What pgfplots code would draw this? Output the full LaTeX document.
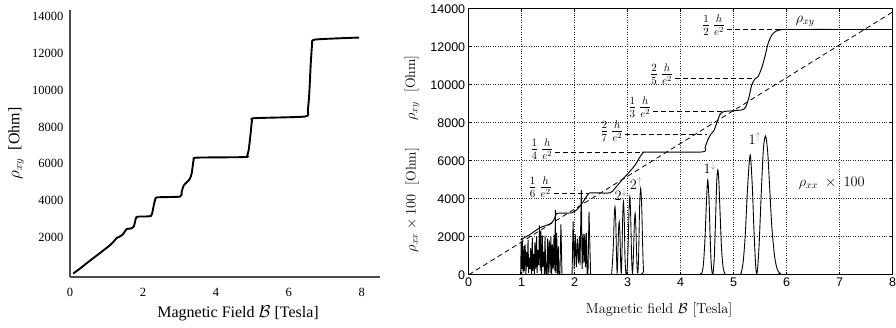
\documentclass[border=0pt]{standalone}
\usepackage{fontspec}
\usepackage{pgfplots}
\pgfplotsset{compat=1.18}
\newfontfamily\serifT{Liberation Serif}
\newfontfamily\sansT{Liberation Sans}
\begin{document}
\begin{tikzpicture}
\useasboundingbox (0,0) rectangle (896pt,327pt);
% ---------------- left panel ----------------
\begin{axis}[
  at={(70pt,50pt)}, anchor=south west, scale only axis,
  width=310pt, height=267pt,
  xmin=0, xmax=8.5, ymin=-170, ymax=14370,
  axis x line*=bottom, axis y line*=left,
  axis line style={draw=black!70, line width=1.1pt},
  major tick length=0pt,
  xtick={0,2,4,6,8}, xticklabels={0,2,4,6,8},
  ytick={2000,4000,6000,8000,10000,12000,14000},
  yticklabels={2000,4000,6000,8000,10000,12000,14000},
  scaled ticks=false,
  tick label style={font=\serifT\fontsize{12.5}{13}\selectfont},
  xticklabel style={yshift=-8pt},
  yticklabel style={xshift=-3pt},
  xlabel={Magnetic Field $\mathcal{B}$ [Tesla]},
  xlabel style={font=\serifT\fontsize{16}{18}\selectfont, at={(axis description cs:0.542,-0.135)}, anchor=center},
  ylabel={$\rho_{xy}$\ \ [Ohm]},
  ylabel style={font=\serifT\fontsize{16}{18}\selectfont, at={(axis description cs:-0.174,0.5)}, anchor=center},
]
\addplot[black, line width=1.9pt, smooth, tension=0.35] coordinates {
(0.09,20) (0.30,330) (0.46,585) (0.64,860) (0.82,1130) (0.98,1380) (1.09,1550)
(1.20,1770) (1.28,1950) (1.37,2040) (1.44,2130) (1.50,2300) (1.55,2440) (1.69,2480)
(1.75,2580) (1.79,2900) (1.82,3085) (1.91,3125) (2.22,3160) (2.29,3670) (2.34,4080)
(2.40,4170) (3.02,4210) (3.06,4450) (3.12,4820) (3.28,5150) (3.34,5500) (3.39,6210)
(3.48,6330) (4.80,6360) (4.86,6450) (4.90,6750) (4.95,7600) (4.99,8350) (5.06,8480)
(6.45,8570) (6.52,8900) (6.56,9800) (6.60,11400) (6.64,12500) (6.72,12760) (7.93,12870)
};
\end{axis}
% ---------------- right panel ----------------
\begin{axis}[
  at={(468.7pt,52.3pt)}, anchor=south west, scale only axis,
  width=424pt, height=266pt,
  xmin=0, xmax=8, ymin=0, ymax=14000,
  xtick={0,1,2,3,4,5,6,7,8}, xticklabels={0,1,2,3,4,5,6,7,8},
  ytick={0,2000,4000,6000,8000,10000,12000,14000},
  yticklabels={0,2000,4000,6000,8000,10000,12000,14000},
  scaled ticks=false,
  grid=major, grid style={black!85, dotted, line width=0.5pt},
  tick label style={font=\sansT\fontsize{12.5}{13}\selectfont},
  axis line style={line width=0.7pt},
  tick style={black, line width=0.5pt}, major tick length=3pt,
  xlabel={Magnetic field $\mathcal{B}$ [Tesla]},
  xlabel style={font=\fontsize{14.4}{16}\selectfont, at={(axis description cs:0.449,-0.133)}, anchor=center},
]
% classical Hall line
\addplot[black, line width=0.8pt, dash pattern=on 5pt off 3.5pt] coordinates {(0,0) (8,13830)};
% plateau guide lines
\addplot[black, line width=0.75pt, dash pattern=on 5pt off 3pt] coordinates {(4.87,12906) (5.90,12906)};
\addplot[black, line width=0.75pt, dash pattern=on 5pt off 3pt] coordinates {(3.89,10325) (5.40,10325)};
\addplot[black, line width=0.75pt, dash pattern=on 5pt off 3pt] coordinates {(3.48,8604) (4.80,8604)};
\addplot[black, line width=0.75pt, dash pattern=on 5pt off 3pt] coordinates {(2.95,7375) (4.49,7375)};
\addplot[black, line width=0.75pt, dash pattern=on 5pt off 3pt] coordinates {(1.63,6453) (3.29,6453)};
\addplot[black, line width=0.75pt, dash pattern=on 5pt off 3pt] coordinates {(1.60,4302) (2.25,4302)};
% rho_xy
\addplot[black, line width=0.95pt, smooth, tension=0.4] coordinates {
(0.98,1830) (1.05,1950) (1.15,2100) (1.25,2300) (1.35,2480) (1.45,2580) (1.55,2700)
(1.61,2900) (1.66,3220) (1.75,3240) (1.95,3260) (2.05,3450) (2.15,3800) (2.22,4100)
(2.28,4300) (2.40,4305) (2.67,4310) (2.76,4550) (2.89,4980) (3.01,5340) (3.14,5770)
(3.22,6150) (3.29,6420) (3.36,6453) (4.40,6460) (4.46,6700) (4.51,7090) (4.57,7400)
(4.63,7600) (4.70,8140) (4.75,8480) (4.82,8590) (4.90,8610) (5.15,8670) (5.22,8800)
(5.28,9250) (5.34,9984) (5.40,10300) (5.46,10420) (5.53,10900) (5.59,11500) (5.65,12180)
(5.72,12620) (5.80,12820) (5.90,12895) (6.05,12906) (8.0,12906)
};
% rho_xx x 100 : noisy low-field part
\addplot[black, line width=0.9pt] coordinates {
(0,0) (0.98,0) (0.99,1700) (1.00,300) (1.01,1900) (1.025,100) (1.04,1500) (1.05,200)
(1.065,1600) (1.08,0) (1.09,1200) (1.105,400) (1.12,1850) (1.13,100) (1.145,900)
(1.16,300) (1.17,1400) (1.185,0) (1.20,1950) (1.21,200) (1.225,1100) (1.24,0)
(1.25,1700) (1.265,300) (1.28,2000) (1.29,100) (1.305,1300) (1.32,500) (1.335,2600)
(1.35,200) (1.36,2300) (1.375,0) (1.39,2050) (1.40,400) (1.415,1200) (1.43,0)
(1.44,2050) (1.455,0) (1.47,0) (1.49,1900) (1.50,0) (1.52,1800) (1.535,100)
(1.55,2000) (1.565,0) (1.58,1600) (1.595,300) (1.61,2100) (1.625,200) (1.635,3400)
(1.645,100) (1.66,2200) (1.675,0) (1.69,1500) (1.70,0) (1.72,0) (1.74,2650) (1.76,0)
(1.95,0) (1.97,2800) (1.99,300) (2.01,2150) (2.03,400) (2.05,1900) (2.07,600)
(2.09,2000) (2.10,500) (2.125,4450) (2.14,300) (2.16,2150) (2.175,600) (2.19,2150)
(2.205,400) (2.22,2200) (2.235,0) (2.25,0) (2.27,3316) (2.30,0) (2.66,0)
};
% rho_xx x 100 : spin-split peaks around 3 T
\addplot[black, line width=0.85pt, smooth, tension=0.5] coordinates {
(2.30,0) (2.66,0) (2.70,200) (2.73,1600) (2.745,3000) (2.76,3580) (2.775,2800) (2.79,900) (2.80,100)
(2.81,600) (2.825,2200) (2.84,2790) (2.855,2000) (2.87,400) (2.88,100)
(2.89,900) (2.905,3000) (2.92,3840) (2.935,2900) (2.95,800) (2.97,0)
(2.99,300) (3.01,1700) (3.025,3400) (3.04,4100) (3.055,3200) (3.075,800) (3.09,100)
(3.105,800) (3.125,2600) (3.14,3230) (3.155,2400) (3.175,500) (3.19,100)
(3.205,900) (3.225,3600) (3.245,4547) (3.265,3500) (3.285,1200) (3.30,200) (3.33,0) (4.30,0)
};
% rho_xx x 100 : peaks at high field
\addplot[black, line width=0.9pt, smooth, tension=0.5] coordinates {
(4.30,0) (4.36,0) (4.40,100) (4.43,600) (4.46,2000) (4.485,3800) (4.51,4985) (4.535,3900)
(4.555,2000) (4.575,600) (4.595,50) (4.605,20)
(4.615,200) (4.635,1000) (4.66,3100) (4.68,4900) (4.70,5510) (4.72,4900) (4.745,3100)
(4.77,1400) (4.80,400) (4.83,80) (4.87,0) (5.10,0)
(5.14,100) (5.18,700) (5.22,2200) (5.26,4500) (5.31,6300) (5.35,4700) (5.38,2500)
(5.41,700) (5.43,50)
(5.45,300) (5.48,1600) (5.52,4300) (5.56,6600) (5.60,7300) (5.64,6500) (5.68,4500)
(5.72,2500) (5.77,1000) (5.82,300) (5.88,60) (5.95,0) (8.0,0)
};
% annotations
\node[anchor=east, inner sep=1pt, font=\fontsize{16}{18}\selectfont] at (axis cs:4.86,13120) {$\frac{1}{2}\,\frac{h}{e^2}$};
\node[anchor=east, inner sep=1pt, font=\fontsize{16}{18}\selectfont] at (axis cs:3.88,10550) {$\frac{2}{5}\,\frac{h}{e^2}$};
\node[anchor=east, inner sep=1pt, font=\fontsize{16}{18}\selectfont] at (axis cs:3.47,8800) {$\frac{1}{3}\,\frac{h}{e^2}$};
\node[anchor=east, inner sep=1pt, font=\fontsize{16}{18}\selectfont] at (axis cs:2.94,7560) {$\frac{2}{7}\,\frac{h}{e^2}$};
\node[anchor=east, inner sep=1pt, font=\fontsize{16}{18}\selectfont] at (axis cs:1.62,6600) {$\frac{1}{4}\,\frac{h}{e^2}$};
\node[anchor=east, inner sep=1pt, font=\fontsize{16}{18}\selectfont] at (axis cs:1.59,4600) {$\frac{1}{6}\,\frac{h}{e^2}$};
\node[font=\fontsize{14}{16}\selectfont] at (axis cs:6.35,13350) {$\rho_{xy}$};
\node[font=\fontsize{14.5}{16}\selectfont] at (axis cs:6.85,4810) {$\rho_{xx}\;\times\;100$};
\node[font=\fontsize{14}{16}\selectfont] at (axis cs:4.55,5650) {$1^{\textcolor{gray}{\downarrow}}$};
\node[font=\fontsize{14}{16}\selectfont] at (axis cs:5.40,7150) {$1^{\textcolor{gray}{\uparrow}}$};
\node[font=\fontsize{14}{16}\selectfont] at (axis cs:2.87,4250) {$2^{\textcolor{gray}{\downarrow}}$};
\node[font=\fontsize{14}{16}\selectfont] at (axis cs:3.16,4800) {$2^{\textcolor{gray}{\uparrow}}$};
\end{axis}
\node[rotate=90, font=\fontsize{14}{16}\selectfont] at (412pt,239pt) {$\rho_{xy}$\ \ [Ohm]};
\node[rotate=90, font=\fontsize{14}{16}\selectfont] at (412pt,127pt) {$\rho_{xx}\times 100$\ \ [Ohm]};
\end{tikzpicture}
\end{document}
